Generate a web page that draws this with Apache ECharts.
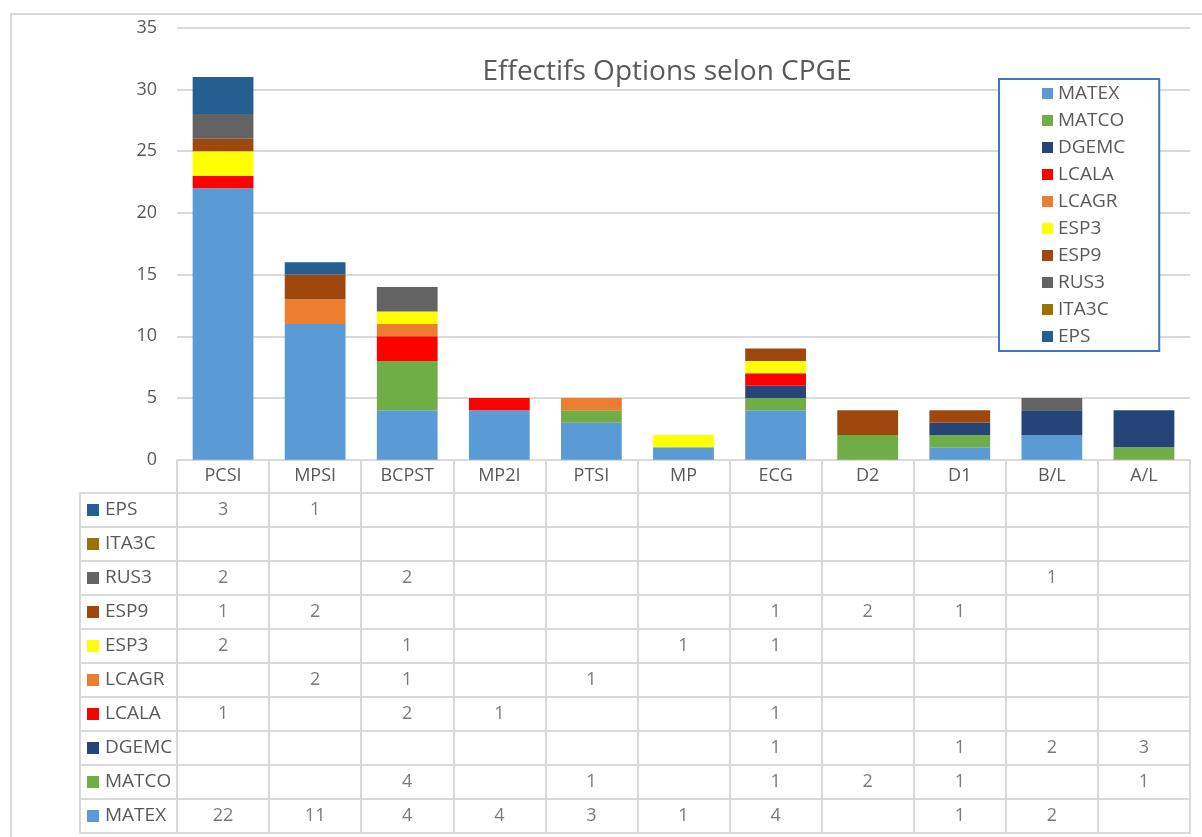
<!DOCTYPE html>
<html>
<head>
<meta charset="utf-8">
<script src="https://cdn.jsdelivr.net/npm/echarts@6/dist/echarts.min.js"></script>
<style>
  html, body { margin: 0; padding: 0; background: #fff; overflow: hidden; }
  #frame { position: absolute; left: 10px; top: 13px; width: 1400px; height: 1000px; border: 2px solid #d9d9d9; }
  #main { position: absolute; left: 0; top: 0; width: 1202px; height: 837px; }
</style>
</head>
<body>
<div id="frame"></div>
<div id="main"></div>
<script>
// catégories CPGE
const categories = ['PCSI', 'MPSI', 'BCPST', 'MP2I', 'PTSI', 'MP', 'ECG', 'D2', 'D1', 'B/L', 'A/L'];

// effectifs par option (0 = case vide)
const MATEX = [22, 11, 4, 4, 3, 1, 4, 0, 1, 2, 0];
const MATCO = [0, 0, 4, 0, 1, 0, 1, 2, 1, 0, 1];
const DGEMC = [0, 0, 0, 0, 0, 0, 1, 0, 1, 2, 3];
const LCALA = [1, 0, 2, 1, 0, 0, 1, 0, 0, 0, 0];
const LCAGR = [0, 2, 1, 0, 1, 0, 0, 0, 0, 0, 0];
const ESP3 = [2, 0, 1, 0, 0, 1, 1, 0, 0, 0, 0];
const ESP9 = [1, 2, 0, 0, 0, 0, 1, 2, 1, 0, 0];
const RUS3 = [2, 0, 2, 0, 0, 0, 0, 0, 0, 1, 0];
const ITA3C = [0, 0, 0, 0, 0, 0, 0, 0, 0, 0, 0];
const EPS = [3, 1, 0, 0, 0, 0, 0, 0, 0, 0, 0];

const yTicks = [0, 5, 10, 15, 20, 25, 30, 35];

// ordre d'empilement : du bas vers le haut
const options = [
  { name: 'MATEX', data: MATEX, color: '#5B9BD5' },
  { name: 'MATCO', data: MATCO, color: '#70AD47' },
  { name: 'DGEMC', data: DGEMC, color: '#264478' },
  { name: 'LCALA', data: LCALA, color: '#FF0000' },
  { name: 'LCAGR', data: LCAGR, color: '#ED7D31' },
  { name: 'ESP3', data: ESP3, color: '#FFFF00' },
  { name: 'ESP9', data: ESP9, color: '#9E480E' },
  { name: 'RUS3', data: RUS3, color: '#636363' },
  { name: 'ITA3C', data: ITA3C, color: '#997300' },
  { name: 'EPS', data: EPS, color: '#255E91' }
];

const gris = '#595959';
const trait = '#d9d9d9';

let chart = echarts.init(document.getElementById('main'), null, { renderer: 'canvas' });

// styles des carrés de couleur du tableau
let rich = { t: { color: gris, fontSize: 19, padding: [0, 0, 0, 6] } };
options.forEach((o, i) => {
  rich['c' + i] = { backgroundColor: o.color, width: 12, height: 12 };
});

// cellules du tableau de données
let cells = [];
options.forEach(o => {
  o.data.forEach((v, i) => {
    if (v) cells.push([categories[i], o.name, v]);
  });
});

let series = options.map(o => ({
  name: o.name,
  type: 'bar',
  stack: 'total',
  barCategoryGap: '34%',
  xAxisIndex: 0,
  yAxisIndex: 0,
  itemStyle: { color: o.color },
  data: o.data
}));

series.push({
  name: 'table',
  type: 'scatter',
  xAxisIndex: 1,
  yAxisIndex: 1,
  symbolSize: 0,
  silent: true,
  label: {
    show: true,
    position: 'inside',
    color: gris,
    fontSize: 18,
    formatter: p => p.value[2]
  },
  data: cells
});

let option = {
  animation: false,
  textStyle: { fontFamily: 'Open Sans' },
  title: {
    text: 'Effectifs Options selon CPGE',
    left: 662,
    textAlign: 'center',
    top: 53,
    textStyle: { color: gris, fontSize: 28, fontWeight: 'normal', fontFamily: 'Open Sans' }
  },
  legend: {
    data: options.map(o => o.name),
    orient: 'vertical',
    left: 999,
    top: 79,
    padding: [5, 34, 5, 43],
    itemGap: 8,
    itemWidth: 11,
    itemHeight: 11,
    icon: 'rect',
    backgroundColor: '#fff',
    borderColor: '#4472C4',
    borderWidth: 2,
    textStyle: { color: gris, fontSize: 19, fontFamily: 'Open Sans' }
  },
  grid: [
    { left: 177, right: 12, top: 27.7, height: 432, containLabel: false },
    { left: 177, right: 12, top: 493, height: 340, show: true, borderColor: trait, borderWidth: 2 }
  ],
  xAxis: [
    {
      type: 'category',
      gridIndex: 0,
      data: categories,
      axisLine: { lineStyle: { color: trait, width: 2 } },
      axisTick: { show: true, interval: 0, length: 33, lineStyle: { color: trait, width: 2 } },
      axisLabel: { color: gris, fontSize: 18, margin: 7, interval: 0 }
    },
    {
      type: 'category',
      gridIndex: 1,
      data: categories,
      axisLine: { show: false },
      axisTick: { show: false },
      axisLabel: { show: false },
      splitLine: { show: true, interval: 0, lineStyle: { color: trait, width: 2 } }
    }
  ],
  yAxis: [
    {
      type: 'value',
      gridIndex: 0,
      min: yTicks[0],
      max: yTicks[yTicks.length - 1],
      interval: 5,
      axisLine: { show: false },
      axisTick: { show: false },
      axisLabel: { color: gris, fontSize: 18, margin: 20 },
      splitLine: { lineStyle: { color: trait, width: 2 } }
    },
    {
      type: 'category',
      gridIndex: 1,
      data: options.map(o => o.name),
      axisLine: { show: false },
      axisTick: { show: true, interval: 0, length: 97, lineStyle: { color: trait, width: 2 } },
      axisLabel: {
        align: 'left',
        margin: 90,
        interval: 0,
        formatter: (v, i) => '{c' + i + '|}{t|' + v + '}',
        rich: rich
      },
      splitLine: { show: true, interval: 0, lineStyle: { color: trait, width: 2 } }
    },
    {
      type: 'category',
      gridIndex: 1,
      position: 'left',
      offset: 97,
      data: options.map(o => o.name),
      axisLine: { show: true, lineStyle: { color: trait, width: 2 } },
      axisTick: { show: false },
      axisLabel: { show: false }
    }
  ],
  series: series
};

chart.setOption(option);
</script>
</body>
</html>
